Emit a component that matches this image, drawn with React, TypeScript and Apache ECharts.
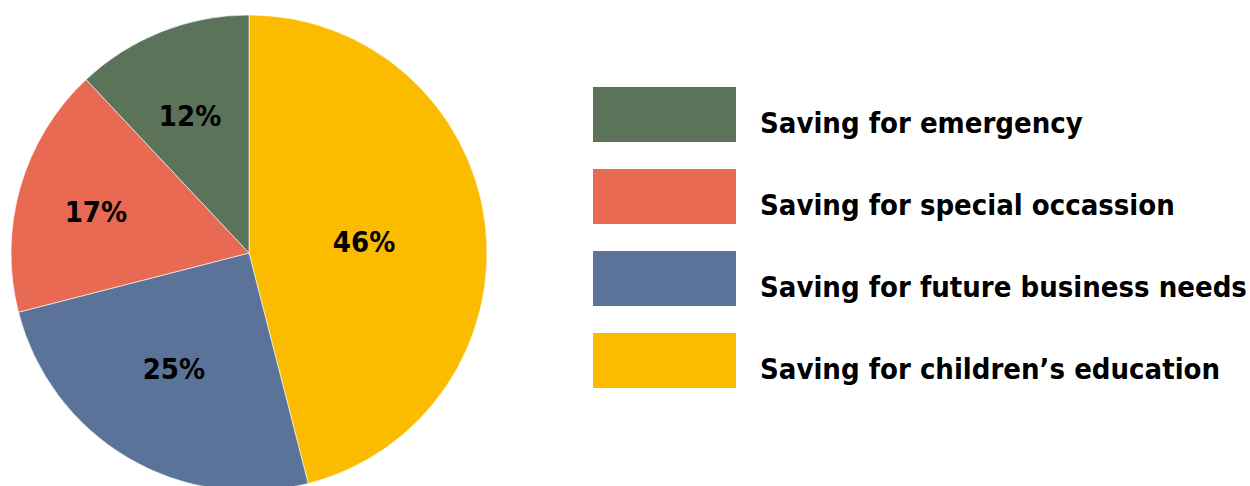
import React, { useEffect, useRef } from "react";
import * as echarts from "echarts";

const categories = [
  "Saving for children\u2019s education",
  "Saving for future business needs",
  "Saving for special occassion",
  "Saving for emergency",
];
const values = [46, 25, 17, 12];
const colors = ["#fbbc00", "#5b7399", "#e96a53", "#5a7359"];
const labelOffsets = [
  [-6, 4],
  [-13, 11],
  [-36, -7],
  [-14, -24],
];
const legendOrder = [
  "Saving for emergency",
  "Saving for special occassion",
  "Saving for future business needs",
  "Saving for children\u2019s education",
];
const FONT = "'DejaVu Sans Condensed', 'DejaVu Sans', sans-serif";

export default function App() {
  const ref = useRef<HTMLDivElement>(null);
  useEffect(() => {
    if (!ref.current) return;
    const chart = echarts.init(ref.current, undefined, { renderer: "svg" });
    chart.setOption({
      animation: false,
      backgroundColor: "#ffffff",
      legend: {
        orient: "vertical",
        left: 593,
        top: 87,
        padding: 0,
        icon: "rect",
        itemWidth: 143,
        itemHeight: 55,
        itemGap: 27,
        itemStyle: { borderWidth: 0 },
        data: legendOrder,
        selectedMode: false,
        formatter: "{t|{name}}",
        textStyle: {
          fontFamily: FONT,
          fontWeight: "bold",
          fontSize: 29,
          color: "#000",
          rich: {
            t: {
              fontFamily: FONT,
              fontWeight: "bold",
              fontSize: 29,
              color: "#000",
              padding: [16, 0, 0, 19],
            },
          },
        },
      },
      series: [
        {
          type: "pie",
          center: [249, 253],
          radius: 238,
          startAngle: 90,
          clockwise: true,
          silent: true,
          itemStyle: { borderColor: "#ffffff", borderWidth: 0.6 },
          label: {
            show: true,
            position: "inside",
            formatter: "{c}%",
            fontFamily: FONT,
            fontWeight: "bold",
            fontSize: 29,
            color: "#000",
          },
          labelLine: { show: false },
          data: categories.map((name, i) => ({
            name,
            value: values[i],
            itemStyle: { color: colors[i] },
            label: { offset: labelOffsets[i] },
          })),
        },
      ],
    });
    return () => chart.dispose();
  }, []);
  return (
    <div
      ref={ref}
      style={{ position: "fixed", left: 0, top: 0, width: 1250, height: 486 }}
    />
  );
}
